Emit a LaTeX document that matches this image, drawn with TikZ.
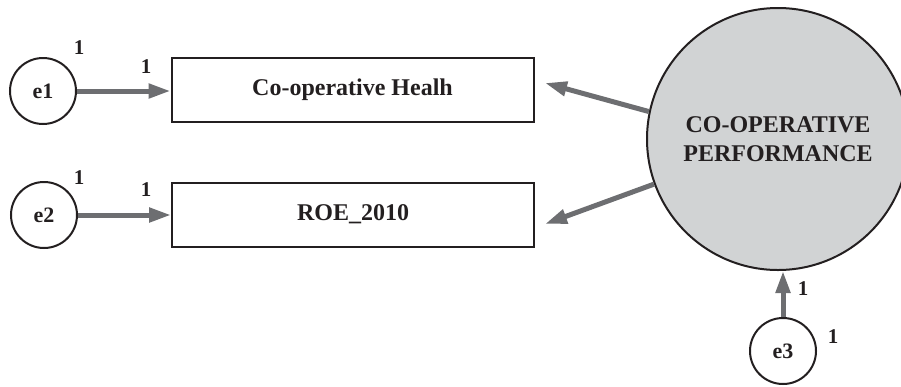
\documentclass[tikz,border=0pt]{standalone}
\usepackage{fontspec}
\setmainfont{Liberation Serif}
\usetikzlibrary{arrows.meta}
\definecolor{arrowgray}{RGB}{109,110,113}
\definecolor{latentfill}{RGB}{209,211,212}
\definecolor{ink}{RGB}{35,31,32}
\begin{document}
\begin{tikzpicture}[x=1pt,y=-1pt,
  errnode/.style={circle, draw=ink, text=ink, line width=2pt, minimum size=66pt, inner sep=0pt,
    font=\fontsize{22}{26}\selectfont\bfseries},
  obsnode/.style={rectangle, draw=ink, text=ink, line width=2pt, minimum width=362pt, minimum height=64pt,
    inner sep=0pt, font=\fontsize{24}{28}\selectfont\bfseries},
  latnode/.style={circle, draw=ink, fill=latentfill, text=ink, line width=2pt, minimum size=262pt,
    inner sep=0pt, align=center, font=\fontsize{24}{28.5}\selectfont\bfseries},
  conn/.style={draw=arrowgray, line width=5pt, -{Triangle[length=22pt,width=14pt]}},
  lbl/.style={text=ink, inner sep=0pt, font=\fontsize{21}{24}\selectfont\bfseries}
]
\useasboundingbox (0,0) rectangle (901,386);

\node[obsnode] (r1) at (352.5,89.5) {Co-operative Healh};
\node[obsnode] (r2) at (353,214.5) {ROE\_2010};
\node[errnode] (e1) at (43,91) {e1};
\node[errnode] (e2) at (44,215) {e2};
\node[errnode] (e3) at (783,351) {e3};
\node[latnode] (P) at (778,139) {CO-OPERATIVE\\PERFORMANCE};

\coordinate (t1) at (545,83);
\coordinate (t2) at (545,224);

\draw[conn] (e1.east) -- (e1.east -| r1.west);
\draw[conn] (e2.east) -- (e2.east -| r2.west);
\draw[conn] (P.168) -- (t1);
\draw[conn] (P.200) -- (t2);
\draw[conn] (e3.north) -- (e3.north |- P.south);

\node[lbl] (l1) at (79,48) {1};
\node[lbl] (l2) at (146,67) {1};
\node[lbl] (l3) at (79,178) {1};
\node[lbl] (l4) at (146,190) {1};
\node[lbl] (l5) at (803,289) {1};
\node[lbl] (l6) at (833,337) {1};
\end{tikzpicture}
\end{document}
